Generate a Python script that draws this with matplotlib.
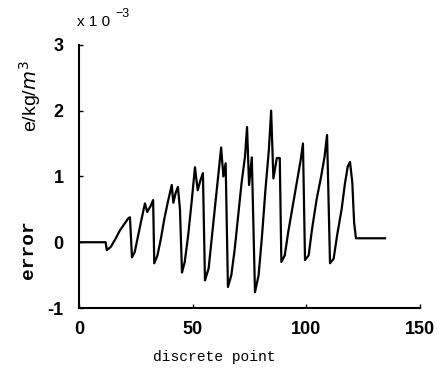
import matplotlib
matplotlib.use("Agg")
import matplotlib.pyplot as plt

# error curve (x: discrete point, y: error in 1e-3 kg/m^3)
point = [0, 11.7, 12.2, 14, 16, 18, 20, 21.6, 22.4, 23.3, 24.5, 26, 27.5, 29,
         30, 31.5, 32.6, 33.1, 34.5, 36, 37.5, 39, 40.8, 41.5, 42.5, 43.5,
         44.4, 45.3, 46.5, 48, 49.5, 51, 52.2, 53.5, 54.5, 55.4, 57, 58.5,
         60, 61.5, 62.5, 63.5, 64.5, 65.5, 67, 68.5, 70, 71.5, 73, 73.9,
         74.8, 76, 77.4, 79, 80.5, 82, 83.5, 84.5, 85.5, 87, 88.3, 89, 90.5,
         92, 94, 96, 97.5, 98.5, 99.4, 101, 102.5, 104.5, 106.5, 108, 109.1,
         110.4, 112, 113.5, 115.5, 117, 118.2, 119.2, 120.2, 121, 121.8, 134.6]
error = [0, 0, -0.12, -0.07, 0.05, 0.18, 0.28, 0.36, 0.38, -0.23, -0.15, 0.1,
         0.35, 0.59, 0.46, 0.55, 0.64, -0.32, -0.2, 0.05, 0.35, 0.6, 0.87, 0.6,
         0.75, 0.84, 0.5, -0.46, -0.3, 0.1, 0.6, 1.14, 0.79, 0.95, 1.05, -0.58,
         -0.4, 0.1, 0.6, 1.1, 1.44, 1.0, 1.2, -0.68, -0.5, -0.1, 0.4, 0.9, 1.3,
         1.75, 0.87, 1.29, -0.76, -0.5, 0.1, 0.8, 1.4, 2.0, 0.97, 1.28, 1.28,
         -0.3, -0.2, 0.15, 0.55, 0.95, 1.25, 1.5, -0.27, -0.2, 0.2, 0.65, 1.0,
         1.3, 1.63, -0.32, -0.25, 0.1, 0.5, 0.9, 1.15, 1.22, 0.91, 0.3, 0.06,
         0.06]

x_ticks = [0, 50, 100, 150]
y_ticks = [-1, 0, 1, 2, 3]

fig = plt.figure(figsize=(4.38, 3.77), dpi=100)
ax = fig.add_axes([0.1804, 0.183, 0.7786, 0.698])

ax.plot(point, error, color="black", lw=1.6)

ax.set_xlim(0, 150)
ax.set_ylim(-1, 3)
ax.set_xticks(x_ticks)
ax.set_yticks(y_ticks)
ax.set_yticklabels([str(v) for v in y_ticks])

for side in ("top", "right"):
    ax.spines[side].set_visible(False)
for side in ("left", "bottom"):
    ax.spines[side].set_linewidth(1.5)

ax.tick_params(direction="in", length=3, width=1)
ax.tick_params(axis="x", pad=9)
ax.tick_params(axis="y", pad=11)
for lbl in ax.get_xticklabels() + ax.get_yticklabels():
    lbl.set_fontfamily("Liberation Sans")
    lbl.set_fontweight("bold")
    lbl.set_fontsize(13)

# scale factor above the axis
fig.text(0.176, 0.942, "x 1 0", fontsize=11, family="Liberation Sans",
         ha="left", va="center")
fig.text(0.263, 0.962, "\u22123", fontsize=9, family="Liberation Sans",
         ha="left", va="center")

# y labels
fig.text(0.068, 0.745, "e/kg/$m^3$", rotation=90, fontsize=14,
         family="Liberation Sans", ha="center", va="center")
fig.text(0.066, 0.337, "error", rotation=90, fontsize=14,
         family="Liberation Mono", fontweight="bold", ha="center", va="center")

fig.text(0.49, 0.053, "discrete point", fontsize=10.5,
         family="Liberation Mono", ha="center", va="center")

fig.savefig("out.png", dpi=100)
